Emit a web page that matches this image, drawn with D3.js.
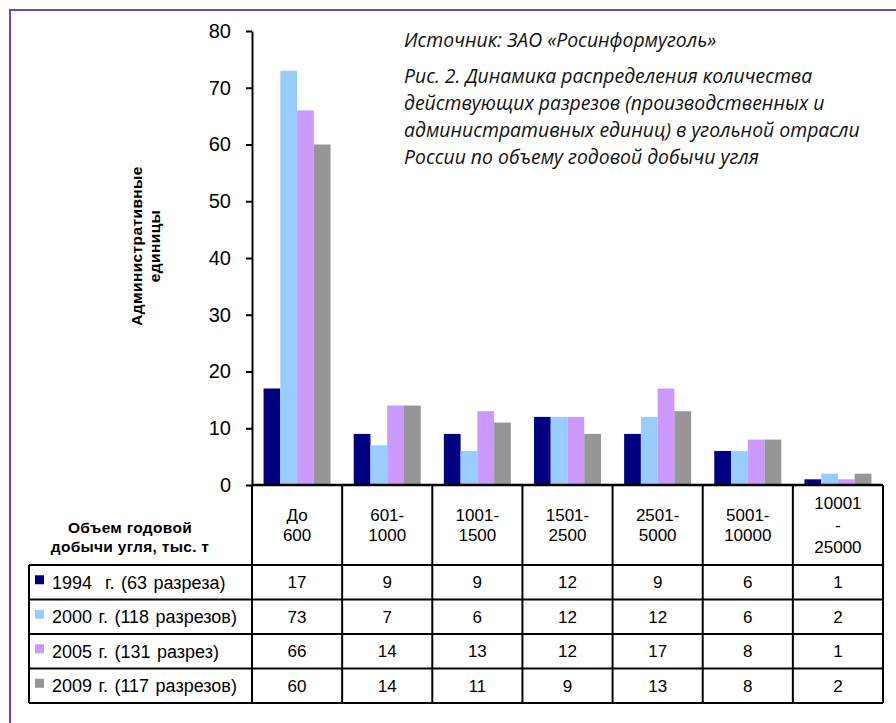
<!DOCTYPE html>
<html>
<head>
<meta charset="utf-8">
<script src="https://cdn.jsdelivr.net/npm/d3@7"></script>
<style>
body { margin: 0; background: #fff; }
svg text { white-space: pre; }
</style>
</head>
<body>
<div id="chart"></div>
<script>
// sizes
var w = 896;
var h = 723;

// data
var categories = ["До\n600", "601-\n1000", "1001-\n1500", "1501-\n2500", "2501-\n5000", "5001-\n10000", "10001\n-\n25000"];
var seriesNames = ["1994  г. (63 разреза)", "2000 г. (118 разрезов)", "2005 г. (131 разрез)", "2009 г. (117 разрезов)"];
var v1994 = [17, 9, 9, 12, 9, 6, 1];
var v2000 = [73, 7, 6, 12, 12, 6, 2];
var v2005 = [66, 14, 13, 12, 17, 8, 1];
var v2009 = [60, 14, 11, 9, 13, 8, 2];
var colors = ["#000080", "#99ccff", "#cc99ff", "#969696"];
var yTicks = [0, 10, 20, 30, 40, 50, 60, 70, 80];

var series = [v1994, v2000, v2005, v2009];

// plot box (note: "top" is reserved on window, so yTop)
var xLeft = 252, xRight = 883, yTop = 31, yBase = 485;
var font = "Liberation Sans, Arial, sans-serif";

var svg = d3.select("#chart").append("svg")
	.attr("width", w)
	.attr("height", h);

// purple frame (runs off the right and bottom)
svg.append("rect")
	.attr("x", 10).attr("y", 10)
	.attr("width", w + 20).attr("height", h + 20)
	.attr("fill", "none")
	.attr("stroke", "#7046a8")
	.attr("stroke-width", 2);

var x = d3.scaleBand().domain(categories).range([xLeft, xRight]);
var x1 = d3.scaleBand().domain([0, 1, 2, 3]).range([0, x.bandwidth()]).paddingOuter(0.69);
var y = d3.scaleLinear().domain([0, 80]).range([yBase, yTop]);

// bars
var groups = svg.selectAll("g.grp")
	.data(categories)
	.enter().append("g")
	.attr("class", "grp")
	.attr("transform", function (d) { return "translate(" + x(d) + ",0)"; });

groups.selectAll("rect")
	.data(function (d, i) { return series.map(function (s, k) { return { k: k, v: s[i] }; }); })
	.enter().append("rect")
	.attr("x", function (d) { return x1(d.k); })
	.attr("width", x1.bandwidth())
	.attr("y", function (d) { return y(d.v); })
	.attr("height", function (d) { return yBase - y(d.v); })
	.attr("fill", function (d) { return colors[d.k]; });

// y axis
var yAxis = d3.axisLeft(y).tickValues(yTicks).tickSize(6).tickSizeOuter(0);
var ya = svg.append("g")
	.attr("transform", "translate(" + xLeft + ",0)")
	.call(yAxis);
ya.select(".domain").attr("stroke", "#000").attr("stroke-width", 2);
ya.selectAll(".tick line").attr("stroke", "#000").attr("stroke-width", 2);
ya.selectAll(".tick text")
	.attr("x", -21)
	.attr("font-family", font)
	.attr("font-size", "20px")
	.attr("fill", "#000");

// y title
var yt = svg.append("text")
	.attr("transform", "translate(137,246) rotate(-90)")
	.attr("text-anchor", "middle")
	.attr("font-family", font)
	.attr("font-size", "15.5px")
	.attr("letter-spacing", "0.4px")
	.attr("font-weight", "bold");
yt.append("tspan").attr("x", 0).attr("dy", "0.35em").text("Административные");
yt.append("tspan").attr("x", 0).attr("dy", "1.15em").text("единицы");

// data table
var rowTop = 565, rowBottom = 703;
var row = d3.scaleBand().domain([0, 1, 2, 3]).range([rowTop, rowBottom]);
var tableLeft = 29;
var lineColor = "#000";

// horizontal lines
svg.append("line").attr("x1", xLeft).attr("x2", xRight).attr("y1", yBase).attr("y2", yBase)
	.attr("stroke", lineColor).attr("stroke-width", 2.5);
[0, 1, 2, 3].forEach(function (k) {
	svg.append("line").attr("x1", tableLeft).attr("x2", xRight)
		.attr("y1", row(k)).attr("y2", row(k))
		.attr("stroke", lineColor).attr("stroke-width", 2);
});
svg.append("line").attr("x1", tableLeft).attr("x2", xRight)
	.attr("y1", rowBottom).attr("y2", rowBottom)
	.attr("stroke", lineColor).attr("stroke-width", 2);

// vertical lines
svg.append("line").attr("x1", tableLeft).attr("x2", tableLeft)
	.attr("y1", rowTop).attr("y2", rowBottom)
	.attr("stroke", lineColor).attr("stroke-width", 2);
categories.forEach(function (c) {
	svg.append("line").attr("x1", x(c)).attr("x2", x(c))
		.attr("y1", yBase).attr("y2", rowBottom)
		.attr("stroke", lineColor).attr("stroke-width", 2);
});
svg.append("line").attr("x1", xRight).attr("x2", xRight)
	.attr("y1", yBase).attr("y2", rowBottom)
	.attr("stroke", lineColor).attr("stroke-width", 2);

// category labels
categories.forEach(function (c) {
	var lines = c.split("\n");
	var cy = (yBase + rowTop) / 2;
	var lh = lines.length == 3 ? 22 : 19.5;
	var t = svg.append("text")
		.attr("text-anchor", "middle")
		.attr("font-family", font)
		.attr("font-size", "17px");
	lines.forEach(function (l, i) {
		t.append("tspan")
			.attr("x", x(c) + x.bandwidth() / 2)
			.attr("y", cy + (i - (lines.length - 1) / 2) * lh)
			.attr("dy", "0.35em")
			.text(l);
	});
});

// header label
var ht = svg.append("text")
	.attr("text-anchor", "middle")
	.attr("font-family", font)
	.attr("font-size", "15.5px")
	.attr("letter-spacing", "0.3px")
	.attr("font-weight", "bold");
ht.append("tspan").attr("x", 130).attr("y", 528).attr("dy", "0.35em").text("Объем годовой");
ht.append("tspan").attr("x", 130).attr("y", 547).attr("dy", "0.35em").text("добычи угля, тыс. т");

// legend cells + values
series.forEach(function (s, k) {
	var cy = row(k) + row.bandwidth() / 2;
	svg.append("rect")
		.attr("x", 35).attr("y", cy - 7)
		.attr("width", 9).attr("height", 9)
		.attr("fill", colors[k]);
	svg.append("text")
		.attr("x", 52).attr("y", cy).attr("dy", "0.35em")
		.attr("font-family", font)
		.attr("font-size", "18px")
		.attr("word-spacing", "1.5px")
		.text(seriesNames[k]);
	svg.selectAll(null)
		.data(s)
		.enter().append("text")
		.attr("x", function (d, i) { return x(categories[i]) + x.bandwidth() / 2; })
		.attr("y", cy)
		.attr("dy", "0.35em")
		.attr("text-anchor", "middle")
		.attr("font-family", font)
		.attr("font-size", "17px")
		.text(function (d) { return d; });
});

// source and caption
var cap = svg.append("text")
	.attr("font-family", "Open Sans, sans-serif")
	.attr("font-style", "italic")
	.attr("font-size", "19.4px")
	.attr("fill", "#111");
cap.append("tspan").attr("x", 404).attr("y", 40).attr("dy", "0.35em").text("Источник: ЗАО «Росинформуголь»");
var capLines = ["Рис. 2. Динамика распределения количества",
	"действующих разрезов (производственных и",
	"административных единиц) в угольной отрасли",
	"России по объему годовой добычи угля"];
capLines.forEach(function (l, i) {
	cap.append("tspan").attr("x", 404).attr("y", 76 + i * 27).attr("dy", "0.35em").text(l);
});
</script>
</body>
</html>
